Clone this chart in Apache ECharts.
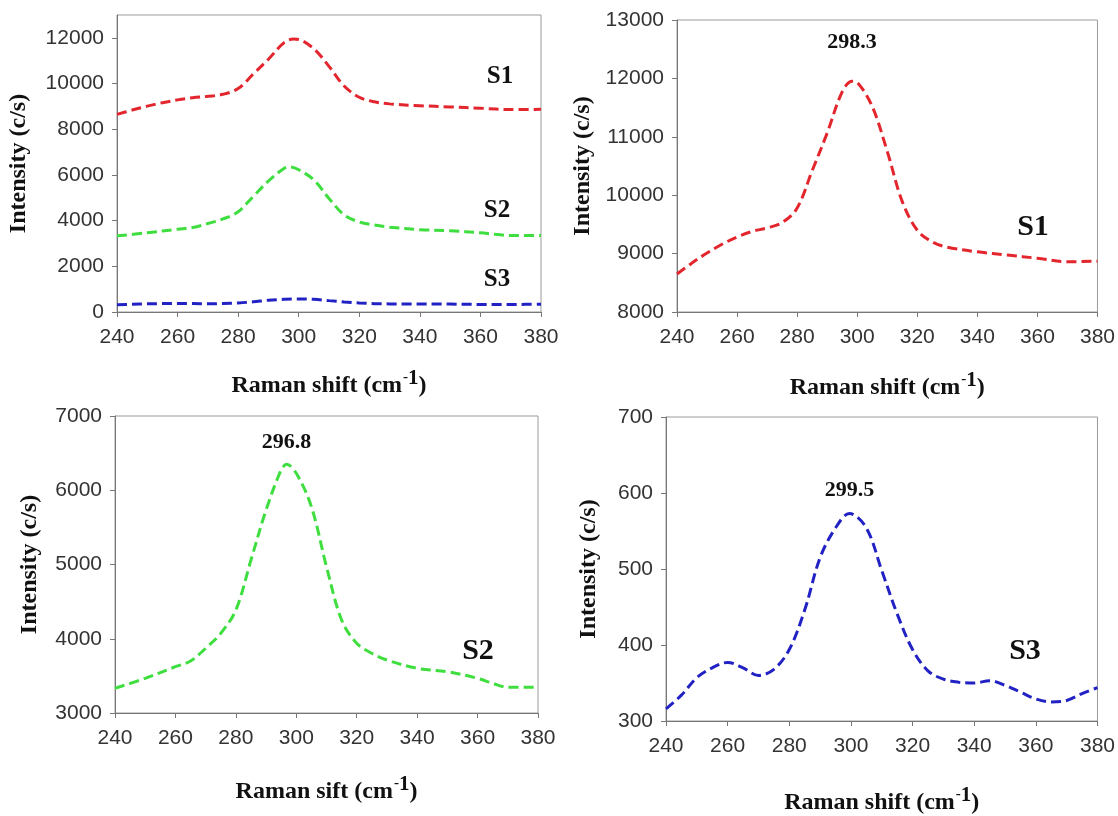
<!DOCTYPE html>
<html>
<head>
<meta charset="utf-8">
<title>Raman spectra S1, S2, S3</title>
<script src="https://cdn.jsdelivr.net/npm/echarts@6/dist/echarts.min.js"></script>
<style>
  html, body { margin: 0; padding: 0; background: #ffffff; }
  #chart { width: 1118px; height: 816px; }
</style>
</head>
<body>
<div id="chart"></div>
<script>
// Raman shift (cm-1) and intensity (c/s) for each sample
const shiftS1 = [240, 245, 250, 255, 260, 265, 270, 275, 280, 285, 290, 295, 298.3, 300, 305, 310, 315, 320, 325, 330, 340, 350, 360, 370, 380];
const intensityS1 = [8650, 8840, 9010, 9160, 9285, 9380, 9440, 9530, 9780, 10420, 11065, 11770, 11950, 11930, 11520, 10750, 9890, 9400, 9200, 9110, 9030, 8975, 8920, 8860, 8870];

const shiftS2 = [240, 250, 260, 265, 270, 275, 280, 285, 290, 295, 296.8, 300, 305, 310, 315, 320, 325, 330, 340, 350, 360, 365, 370, 380];
const intensityS2 = [3333, 3467, 3624, 3700, 3871, 4073, 4387, 5060, 5734, 6273, 6350, 6228, 5779, 4970, 4253, 3939, 3804, 3714, 3602, 3556, 3467, 3400, 3346, 3346];

const shiftS3 = [240, 245, 250, 255, 260, 265, 270, 275, 280, 285, 290, 295, 299.5, 305, 310, 315, 320, 325, 330, 335, 340, 345, 350, 355, 360, 365, 370, 375, 380];
const intensityS3 = [316, 334, 357, 370, 377, 370, 360, 368, 394, 446, 515, 554, 573, 554, 498, 441, 394, 366, 355, 351, 350, 353, 347, 338, 329, 325, 327, 336, 344];

// Peak positions labelled on the single-sample panels
const peakS1 = 298.3;
const peakS2 = 296.8;
const peakS3 = 299.5;

// Axis ranges
const xRange = { min: 240, max: 380, interval: 20 };
const yRangeAll = { min: 0, max: 13000, interval: 2000 };
const yRangeS1 = { min: 8000, max: 13000, interval: 1000 };
const yRangeS2 = { min: 3000, max: 7000, interval: 1000 };
const yRangeS3 = { min: 300, max: 700, interval: 100 };

const colorS1 = '#e3262e';
const colorS2 = '#3fde3f';
const colorS3 = '#2222c4';

const SANS = '"Liberation Sans", Arial, sans-serif';
const SERIF = '"Liberation Serif", "Times New Roman", serif';

function pairs(xs, ys) { return xs.map((x, i) => [x, ys[i]]); }

// plain integers, no thousands separators
const plainNumber = v => String(v);

function xAxisFor(gridIndex, title, gap) {
  return {
    type: 'value', gridIndex,
    min: xRange.min, max: xRange.max, interval: xRange.interval,
    name: '{t|' + title + ' (cm}{m|-}{s|1}{t|)}',
    nameLocation: 'middle', nameGap: gap,
    nameTextStyle: {
      rich: {
        t: { fontFamily: SERIF, fontWeight: 'bold', fontSize: 24, color: '#111', lineHeight: 30, verticalAlign: 'bottom' },
        m: { fontFamily: SERIF, fontWeight: 'bold', fontSize: 15, color: '#111', lineHeight: 30, verticalAlign: 'top', padding: [2, 0, 0, 1] },
        s: { fontFamily: SERIF, fontWeight: 'bold', fontSize: 21, color: '#111', lineHeight: 30, verticalAlign: 'top' }
      }
    },
    axisLine: { show: true, onZero: false, lineStyle: { color: '#777', width: 1 } },
    axisTick: { show: true, inside: false, length: 5, lineStyle: { color: '#777' } },
    axisLabel: { fontFamily: SANS, fontSize: 21, color: '#333', margin: 15, formatter: plainNumber },
    splitLine: { show: false }
  };
}

function yAxisFor(gridIndex, range, gap, hideMax) {
  return {
    type: 'value', gridIndex,
    min: range.min, max: range.max, interval: range.interval,
    name: 'Intensity (c/s)',
    nameLocation: 'middle', nameGap: gap, nameRotate: 90,
    nameTextStyle: { fontFamily: SERIF, fontWeight: 'bold', fontSize: 24, color: '#111' },
    axisLine: { show: true, onZero: false, lineStyle: { color: '#777', width: 1 } },
    axisTick: { show: true, inside: false, length: 5, lineStyle: { color: '#777' } },
    axisLabel: { fontFamily: SANS, fontSize: 21, color: '#333', margin: 13, formatter: plainNumber, showMaxLabel: !hideMax },
    splitLine: { show: false }
  };
}

function curve(name, xs, ys, color, axisIndex, peak, peakGap) {
  const s = {
    type: 'line', name,
    xAxisIndex: axisIndex, yAxisIndex: axisIndex,
    data: pairs(xs, ys),
    smooth: 0.35, showSymbol: false, silent: true,
    lineStyle: { color, width: 3, type: [10, 5] },
    z: 3
  };
  if (peak !== undefined) {
    const idx = xs.indexOf(peak);
    s.markPoint = {
      symbol: 'circle', symbolSize: 0, silent: true,
      label: {
        show: true, position: 'top', distance: peakGap,
        formatter: '{b}',
        fontFamily: SERIF, fontWeight: 'bold', fontSize: 22, color: '#111'
      },
      data: [{ name: String(peak), coord: [peak, ys[idx]] }]
    };
  }
  return s;
}

const frame = { show: true, borderColor: '#9b9b9b', borderWidth: 1, backgroundColor: 'transparent' };

const option = {
  animation: false,
  backgroundColor: '#ffffff',
  grid: [
    Object.assign({ left: 117, top: 15, width: 424, height: 297 }, frame),
    Object.assign({ left: 677, top: 20, width: 421, height: 292 }, frame),
    Object.assign({ left: 115, top: 416, width: 423, height: 297 }, frame),
    Object.assign({ left: 666, top: 417, width: 435, height: 309 }, frame)
  ],
  xAxis: [
    xAxisFor(0, 'Raman shift', 56),
    xAxisFor(1, 'Raman shift', 58),
    xAxisFor(2, 'Raman sift', 61),
    xAxisFor(3, 'Raman shift', 64)
  ],
  yAxis: [
    yAxisFor(0, yRangeAll, 86, true),
    yAxisFor(1, yRangeS1, 82),
    yAxisFor(2, yRangeS2, 73),
    yAxisFor(3, yRangeS3, 65)
  ],
  series: [
    curve('S1', shiftS1, intensityS1, colorS1, 0),
    curve('S2', shiftS2, intensityS2, colorS2, 0),
    curve('S3', shiftS3, intensityS3, colorS3, 0),
    curve('S1', shiftS1, intensityS1, colorS1, 1, peakS1, 28),
    curve('S2', shiftS2, intensityS2, colorS2, 2, peakS2, 11),
    curve('S3', shiftS3, intensityS3, colorS3, 3, peakS3, 12)
  ],
  graphic: [
    // sample names written beside the curves
    { type: 'text', x: 500, y: 77, style: { text: 'S1', font: 'bold 25px ' + SERIF, fill: '#111', textAlign: 'center', textVerticalAlign: 'middle' } },
    { type: 'text', x: 497, y: 211, style: { text: 'S2', font: 'bold 25px ' + SERIF, fill: '#111', textAlign: 'center', textVerticalAlign: 'middle' } },
    { type: 'text', x: 497, y: 280, style: { text: 'S3', font: 'bold 25px ' + SERIF, fill: '#111', textAlign: 'center', textVerticalAlign: 'middle' } },
    { type: 'text', x: 1033, y: 227, style: { text: 'S1', font: 'bold 30px ' + SERIF, fill: '#111', textAlign: 'center', textVerticalAlign: 'middle' } },
    { type: 'text', x: 478, y: 651, style: { text: 'S2', font: 'bold 30px ' + SERIF, fill: '#111', textAlign: 'center', textVerticalAlign: 'middle' } },
    { type: 'text', x: 1025, y: 651, style: { text: 'S3', font: 'bold 30px ' + SERIF, fill: '#111', textAlign: 'center', textVerticalAlign: 'middle' } }
  ]
};

const chart = echarts.init(document.getElementById('chart'), null, { renderer: 'canvas' });
chart.setOption(option);
</script>
</body>
</html>
